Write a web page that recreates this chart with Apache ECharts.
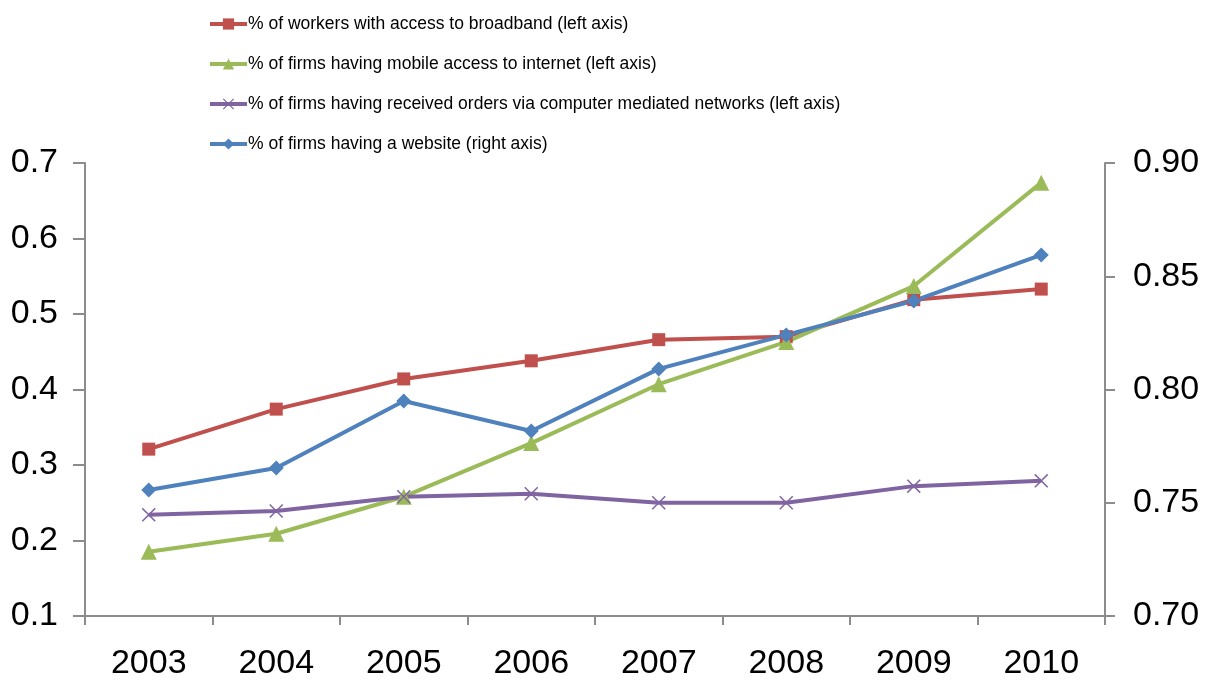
<!DOCTYPE html>
<html>
<head>
<meta charset="utf-8">
<script src="https://cdn.jsdelivr.net/npm/echarts@6/dist/echarts.min.js"></script>
<style>
  html, body { margin: 0; padding: 0; background: #fff; }
  #chart { width: 1210px; height: 684px; }
</style>
</head>
<body>
<div id="chart"></div>
<script>
var years = ['2003', '2004', '2005', '2006', '2007', '2008', '2009', '2010'];
var broadband = [0.321, 0.374, 0.414, 0.438, 0.466, 0.470, 0.519, 0.533];
var mobile = [0.185, 0.209, 0.258, 0.329, 0.407, 0.463, 0.537, 0.674];
var orders = [0.234, 0.239, 0.258, 0.262, 0.250, 0.250, 0.272, 0.279];
var website = [0.7556, 0.7653, 0.7949, 0.7817, 0.8091, 0.8241, 0.8391, 0.8594];

var names = [
  '% of workers with access to broadband (left axis)',
  '% of firms having mobile access to internet (left axis)',
  '% of firms having received orders via computer mediated networks (left axis)',
  '% of firms having a website (right axis)'
];

var axisGrey = '#8c8c8c';
// thin "x" marker drawn as a filled outline
var crossPath = 'path://M0,1.5 L1.5,0 L10,8.5 L18.5,0 L20,1.5 L11.5,10 L20,18.5 L18.5,20 L10,11.5 L1.5,20 L0,18.5 L8.5,10 Z';

function lineSeries(name, data, color, symbol, size, yIndex) {
  return {
    name: name,
    type: 'line',
    yAxisIndex: yIndex,
    data: data,
    symbol: symbol,
    symbolSize: size,
    showAllSymbol: true,
    lineStyle: { color: color, width: 4 },
    itemStyle: { color: color },
    emphasis: { disabled: true }
  };
}

var chart = echarts.init(document.getElementById('chart'), null, { renderer: 'canvas' });
chart.setOption({
  animation: false,
  textStyle: { fontFamily: 'Liberation Sans, Arial, sans-serif' },
  legend: {
    orient: 'vertical',
    left: 203,
    top: 10,
    itemWidth: 37,
    itemHeight: 14,
    itemGap: 22,
    lineStyle: { width: 4 },
    textStyle: { fontSize: 17.5, color: '#000', padding: [0, 0, 0, -4] },
    data: names
  },
  grid: { left: 85, right: 105, top: 163, bottom: 68 },
  xAxis: {
    type: 'category',
    data: years,
    boundaryGap: true,
    axisLine: { lineStyle: { color: axisGrey, width: 2 } },
    axisTick: { show: true, length: 9, lineStyle: { color: axisGrey, width: 2 } },
    axisLabel: { color: '#000', fontSize: 34, margin: 31 },
    splitLine: { show: false }
  },
  yAxis: [{
    type: 'value',
    min: 0.1,
    max: 0.7,
    interval: 0.1,
    axisLine: { show: true, lineStyle: { color: axisGrey, width: 2 } },
    axisTick: { show: true, length: 12, lineStyle: { color: axisGrey, width: 2 } },
    axisLabel: { color: '#000', fontSize: 34, margin: 27, formatter: function(v) { return v.toFixed(1); } },
    splitLine: { show: false }
  }, {
    type: 'value',
    min: 0.7,
    max: 0.9,
    interval: 0.05,
    position: 'right',
    axisLine: { show: true, lineStyle: { color: axisGrey, width: 2 } },
    axisTick: { show: true, length: 10, lineStyle: { color: axisGrey, width: 2 } },
    axisLabel: { color: '#000', fontSize: 34, margin: 28, formatter: function(v) { return v.toFixed(2); } },
    splitLine: { show: false }
  }],
  series: [
    lineSeries(names[0], broadband, '#c0504d', 'rect', 13, 0),
    lineSeries(names[1], mobile, '#9bbb59', 'triangle', 16, 0),
    lineSeries(names[2], orders, '#8064a2', crossPath, 14, 0),
    lineSeries(names[3], website, '#4f81bd', 'diamond', 15, 1)
  ]
});
window.addEventListener('resize', function() { chart.resize(); });
</script>
</body>
</html>
